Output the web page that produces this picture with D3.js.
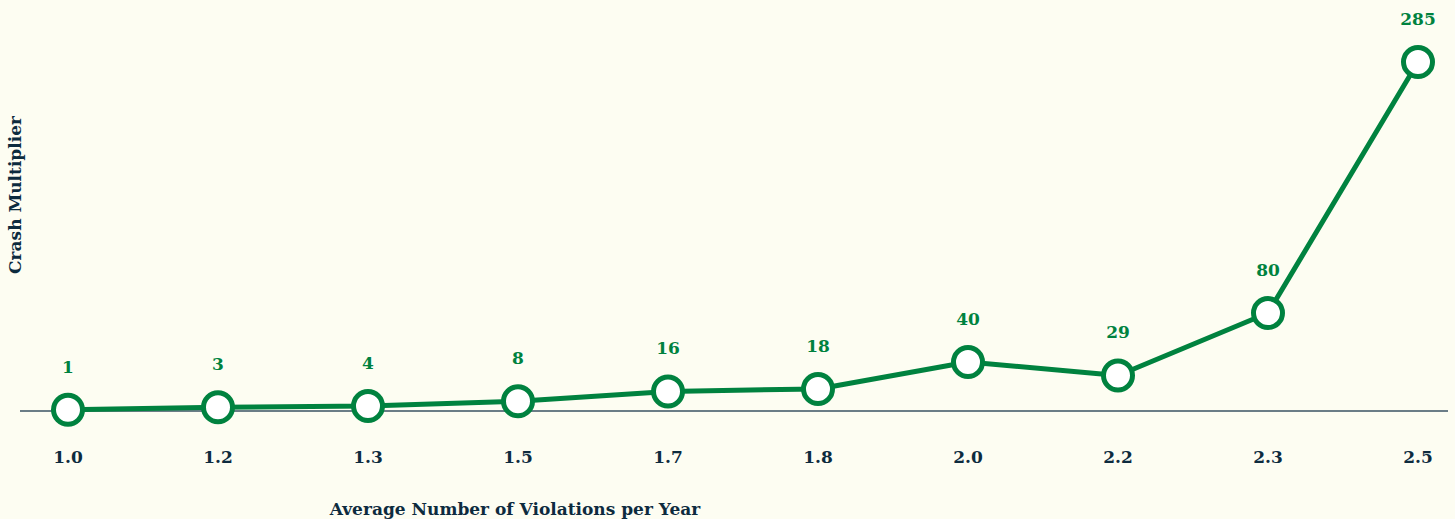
<!DOCTYPE html>
<html>
<head>
<meta charset="utf-8">
<script src="https://cdn.jsdelivr.net/npm/d3@7"></script>
<style>
  html, body { margin: 0; padding: 0; background: #fdfdf2; }
  svg { display: block; }
</style>
</head>
<body>
<svg id="chart"></svg>
<script>
// data
const violations = ["1.0", "1.2", "1.3", "1.5", "1.7", "1.8", "2.0", "2.2", "2.3", "2.5"];
const multiplier = [1, 3, 4, 8, 16, 18, 40, 29, 80, 285];

// dimensions
const width = 1455;
const height = 519;
const fontFamily = "'DejaVu Serif', 'Liberation Serif', serif";
const green = "#00823f";
const navy = "#0d2b3e";

const svg = d3.select("#chart").attr("width", width).attr("height", height);

const x = d3.scalePoint().domain(violations).range([68, 1418]);
const y = d3.scaleLinear().domain([0, 285]).range([411, 62]);

const data = violations.map((v, i) => ({ v, m: multiplier[i] }));

// baseline
svg.append("line")
  .attr("x1", 20).attr("x2", 1448)
  .attr("y1", y(0)).attr("y2", y(0))
  .attr("stroke", "#3a5263").attr("stroke-width", 1.5);

// x tick labels
svg.append("g").selectAll("text")
  .data(violations)
  .join("text")
    .attr("x", d => x(d))
    .attr("y", 463)
    .attr("text-anchor", "middle")
    .attr("font-family", fontFamily)
    .attr("font-weight", "bold")
    .attr("font-size", "17px")
    .attr("fill", navy)
    .text(d => d);

// axis titles
svg.append("text")
  .attr("x", 515).attr("y", 515)
  .attr("text-anchor", "middle")
  .attr("font-family", fontFamily)
  .attr("font-weight", "bold")
  .attr("font-size", "17px")
  .attr("fill", navy)
  .text("Average Number of Violations per Year");

svg.append("text")
  .attr("transform", "translate(21,195) rotate(-90)")
  .attr("text-anchor", "middle")
  .attr("font-family", fontFamily)
  .attr("font-weight", "bold")
  .attr("font-size", "17px")
  .attr("fill", navy)
  .text("Crash Multiplier");

// line
const line = d3.line().x(d => x(d.v)).y(d => y(d.m));
svg.append("path")
  .datum(data)
  .attr("d", line)
  .attr("fill", "none")
  .attr("stroke", green)
  .attr("stroke-width", 5)
  .attr("stroke-linejoin", "round");

// points
svg.append("g").selectAll("circle")
  .data(data)
  .join("circle")
    .attr("cx", d => x(d.v))
    .attr("cy", d => y(d.m))
    .attr("r", 14.5)
    .attr("fill", "#ffffff")
    .attr("stroke", green)
    .attr("stroke-width", 5);

// value labels
svg.append("g").selectAll("text")
  .data(data)
  .join("text")
    .attr("x", d => x(d.v))
    .attr("y", d => y(d.m) - 37)
    .attr("text-anchor", "middle")
    .attr("font-family", fontFamily)
    .attr("font-weight", "bold")
    .attr("font-size", "17px")
    .attr("fill", green)
    .text(d => d.m);
</script>
</body>
</html>
